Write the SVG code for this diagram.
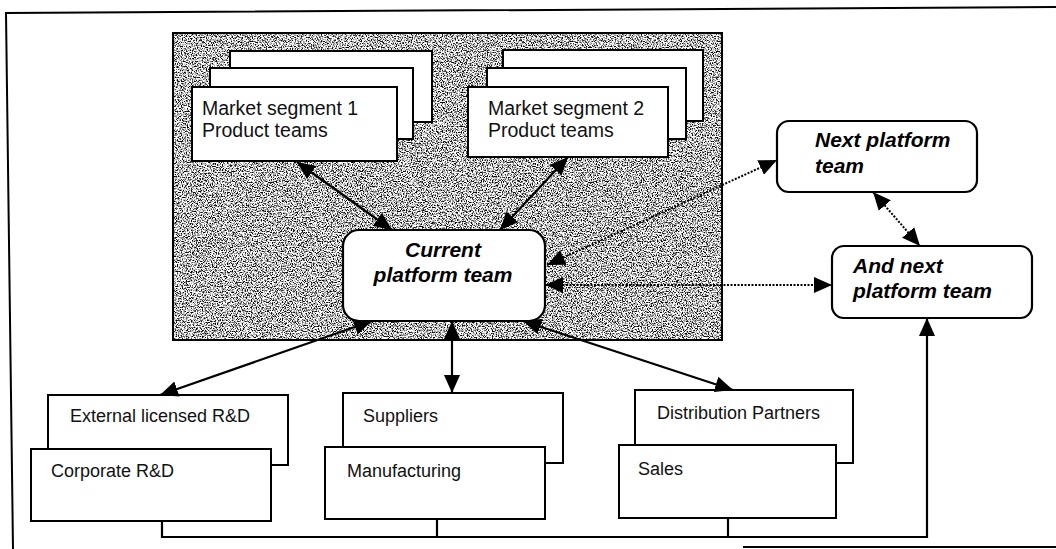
<svg xmlns="http://www.w3.org/2000/svg" width="1056" height="549" viewBox="0 0 1056 549">
  <style>
    .box { fill: #fff; stroke: #000; stroke-width: 2; }
    .rbox { fill: #fff; stroke: #000; stroke-width: 2.2; }
    .lbl { font-family: "Liberation Sans", Arial, sans-serif; font-size: 18px; fill: #111; }
    .seg { font-family: "Liberation Sans", Arial, sans-serif; font-size: 19.5px; fill: #111; }
    .team { font-family: "Liberation Sans", Arial, sans-serif; font-size: 21px; font-weight: bold; font-style: italic; fill: #000; }
    .link { fill: none; stroke: #000; stroke-width: 2.2; }
    .dot { fill: none; stroke: #000; stroke-width: 2; stroke-dasharray: 2 1.5; }
    .frame { fill: none; stroke: #000; stroke-width: 2; }
  </style>
  <defs>
    <marker id="head" viewBox="0 0 18 16" refX="18" refY="8" markerWidth="18" markerHeight="16" markerUnits="userSpaceOnUse" orient="auto-start-reverse">
      <path d="M0,0 L18,8 L0,16 Z" fill="#000"/>
    </marker>
    <filter id="grain" x="0" y="0" width="100%" height="100%" color-interpolation-filters="sRGB">
      <feTurbulence type="fractalNoise" baseFrequency="0.8" numOctaves="2" seed="7" result="n"/>
      <feColorMatrix in="n" type="matrix" values="4 0 0 0 -1.25  4 0 0 0 -1.25  4 0 0 0 -1.25  0 0 0 0 1" result="g"/>
      <feComposite in="g" in2="SourceGraphic" operator="in"/>
    </filter>
  </defs>

  <rect width="1056" height="549" fill="#fff"/>

  <!-- outer frame (open on the right) -->
  <g id="frame">
    <path class="frame" d="M13,549 L6,13 L1056,7"/>
    <path class="frame" d="M743,547 L1056,547"/>
  </g>

  <!-- shaded platform region -->
  <g id="platform-area">
    <rect x="173" y="33" width="549" height="307" fill="#888" filter="url(#grain)"/>
    <rect x="173" y="33" width="549" height="307" fill="none" stroke="#000" stroke-width="2"/>
  </g>

  <g id="segment1">
    <rect class="box" x="230" y="51" width="202" height="71"/>
    <rect class="box" x="210" y="68" width="203" height="71"/>
    <rect class="box" x="192" y="87" width="205" height="74"/>
    <text class="seg" x="202" y="115">Market segment 1</text>
    <text class="seg" x="202" y="137">Product teams</text>
  </g>

  <g id="segment2">
    <rect class="box" x="503" y="50" width="200" height="71"/>
    <rect class="box" x="487" y="68" width="199" height="71"/>
    <rect class="box" x="468" y="87" width="200" height="70"/>
    <text class="seg" x="488" y="115">Market segment 2</text>
    <text class="seg" x="488" y="137">Product teams</text>
  </g>

  <g id="current-platform">
    <rect class="rbox" x="343" y="230" width="202" height="91" rx="16"/>
    <text class="team" x="443" y="257" text-anchor="middle">Current</text>
    <text class="team" x="443" y="282" text-anchor="middle">platform team</text>
  </g>

  <g id="next-platform">
    <rect class="rbox" x="777" y="121" width="200" height="71" rx="12"/>
    <text class="team" x="815" y="147">Next platform</text>
    <text class="team" x="815" y="173">team</text>
  </g>

  <g id="and-next-platform">
    <rect class="rbox" x="832" y="246" width="200" height="72" rx="12"/>
    <text class="team" x="853" y="273">And next</text>
    <text class="team" x="853" y="298">platform team</text>
  </g>

  <g id="rnd">
    <rect class="box" x="48" y="395" width="240" height="70"/>
    <rect class="box" x="31" y="449" width="240" height="72"/>
    <text class="lbl" x="70" y="422">External licensed R&amp;D</text>
    <text class="lbl" x="51" y="477">Corporate R&amp;D</text>
  </g>

  <g id="supply">
    <rect class="box" x="343" y="393" width="220" height="70"/>
    <rect class="box" x="325" y="447" width="220" height="72"/>
    <text class="lbl" x="363" y="422">Suppliers</text>
    <text class="lbl" x="347" y="477">Manufacturing</text>
  </g>

  <g id="distribution">
    <rect class="box" x="635" y="390" width="218" height="73"/>
    <rect class="box" x="619" y="445" width="217" height="73"/>
    <text class="lbl" x="657" y="419">Distribution Partners</text>
    <text class="lbl" x="638" y="475">Sales</text>
  </g>

  <g id="connectors">
    <path class="link" d="M297,162 L392,230" marker-start="url(#head)" marker-end="url(#head)"/>
    <path class="link" d="M568,157 L500,230" marker-start="url(#head)" marker-end="url(#head)"/>
    <path class="link" d="M372,321 L160,395" marker-start="url(#head)" marker-end="url(#head)"/>
    <path class="link" d="M452,321 L452,393" marker-start="url(#head)" marker-end="url(#head)"/>
    <path class="link" d="M523,321 L733,390" marker-start="url(#head)" marker-end="url(#head)"/>
    <path class="dot" d="M547,265 L777,160" marker-start="url(#head)" marker-end="url(#head)"/>
    <path class="dot" d="M545,285 L832,285" marker-start="url(#head)" marker-end="url(#head)"/>
    <path class="dot" d="M873,192 L920,246" marker-start="url(#head)" marker-end="url(#head)"/>
    <path class="link" d="M162,521 L162,537 L927,537 L927,318" marker-end="url(#head)"/>
    <path class="link" d="M437,519 L437,537"/>
    <path class="link" d="M728,518 L728,537"/>
  </g>
</svg>
